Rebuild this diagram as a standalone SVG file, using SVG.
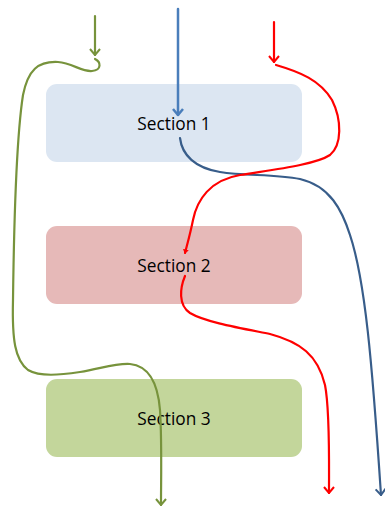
<svg xmlns="http://www.w3.org/2000/svg" width="385" height="511" viewBox="0 0 385 511">
  <style>
    .box { stroke: none; }
    .label { font-family: "Open Sans", "Liberation Sans", sans-serif; font-size: 17.3px; fill: #000; text-anchor: middle; }
    .wire { fill: none; stroke-linecap: round; stroke-linejoin: round; }
    .green { stroke: #77933c; stroke-width: 2.2; }
    .red { stroke: #ff0000; stroke-width: 2.2; }
    .blue { stroke: #385d8a; stroke-width: 2.2; }
    .blue-light { stroke: #4a7ebb; stroke-width: 2.5; }
  </style>
  <defs>
    <marker id="arrow-green" markerUnits="userSpaceOnUse" viewBox="-8 -6 9 12" markerWidth="9" markerHeight="12" refX="0" refY="0" orient="auto">
      <path d="M -6 -5 L 0 0 L -6 5" fill="none" stroke="#77933c" stroke-width="2"/>
    </marker>
    <marker id="arrow-red" markerUnits="userSpaceOnUse" viewBox="-8 -6 9 12" markerWidth="9" markerHeight="12" refX="0" refY="0" orient="auto">
      <path d="M -6 -5 L 0 0 L -6 5" fill="none" stroke="#ff0000" stroke-width="2"/>
    </marker>
    <marker id="arrow-red-small" markerUnits="userSpaceOnUse" viewBox="-4 -3 5 6" markerWidth="5" markerHeight="6" refX="0" refY="0" orient="auto">
      <path d="M -3 -2 L 0 0 L -3 2 Z" fill="#ff0000" stroke="#ff0000" stroke-width="1"/>
    </marker>
    <marker id="arrow-blue" markerUnits="userSpaceOnUse" viewBox="-8 -6 9 12" markerWidth="9" markerHeight="12" refX="0" refY="0" orient="auto">
      <path d="M -6 -5 L 0 0 L -6 5" fill="none" stroke="#385d8a" stroke-width="2"/>
    </marker>
    <marker id="arrow-blue-light" markerUnits="userSpaceOnUse" viewBox="-8 -6 9 12" markerWidth="9" markerHeight="12" refX="0" refY="0" orient="auto">
      <path d="M -6 -5 L 0 0 L -6 5" fill="none" stroke="#4a7ebb" stroke-width="2.5"/>
    </marker>
  </defs>

  <g id="section-1">
    <rect class="box" x="46" y="84" width="256" height="78" rx="11" fill="#dce6f2"/>
    <text class="label" x="174" y="130">Section 1</text>
  </g>
  <g id="section-2">
    <rect class="box" x="46" y="226" width="256" height="78" rx="11" fill="#e6b9b8"/>
    <text class="label" x="174" y="272">Section 2</text>
  </g>
  <g id="section-3">
    <rect class="box" x="46" y="379" width="256" height="78" rx="11" fill="#c3d69b"/>
    <text class="label" x="174" y="425">Section 3</text>
  </g>

  <g id="connectors">
    <!-- green flow -->
    <path class="wire green" d="M95,16 V55" marker-end="url(#arrow-green)"/>
    <path class="wire green" d="M95,59 C101,62 102,70 92,71 C82,72 72,63 58,62 C38,61 28,70 23,95 C16,140 14,220 13,300 C12,340 15,360 28,370 C40,377 60,375 80,372 C100,369 115,363 130,364 C150,366 158,385 160,410 C162,440 161,480 161,505" marker-end="url(#arrow-green)"/>

    <!-- blue flow -->
    <path class="wire blue-light" d="M178,9 V115" marker-end="url(#arrow-blue-light)"/>
    <path class="wire blue" d="M180,138 C182,155 195,168 220,172 C245,176 275,174 300,179 C330,186 342,210 350,235 C365,280 372,360 381,495" marker-end="url(#arrow-blue)"/>

    <!-- red flow -->
    <path class="wire red" d="M274,22 V62" marker-end="url(#arrow-red)"/>
    <path class="wire red" d="M276,65 C300,72 320,80 332,100 C342,120 342,145 330,155 C315,165 270,170 240,175 C210,180 197,200 193,220 C190,235 187,245 185,253" marker-end="url(#arrow-red-small)"/>
    <path class="wire red" d="M185,276 C180,288 178,305 190,313 C205,322 240,328 270,334 C300,342 318,355 325,385 C330,410 329,460 329,493" marker-end="url(#arrow-red)"/>
  </g>
</svg>
